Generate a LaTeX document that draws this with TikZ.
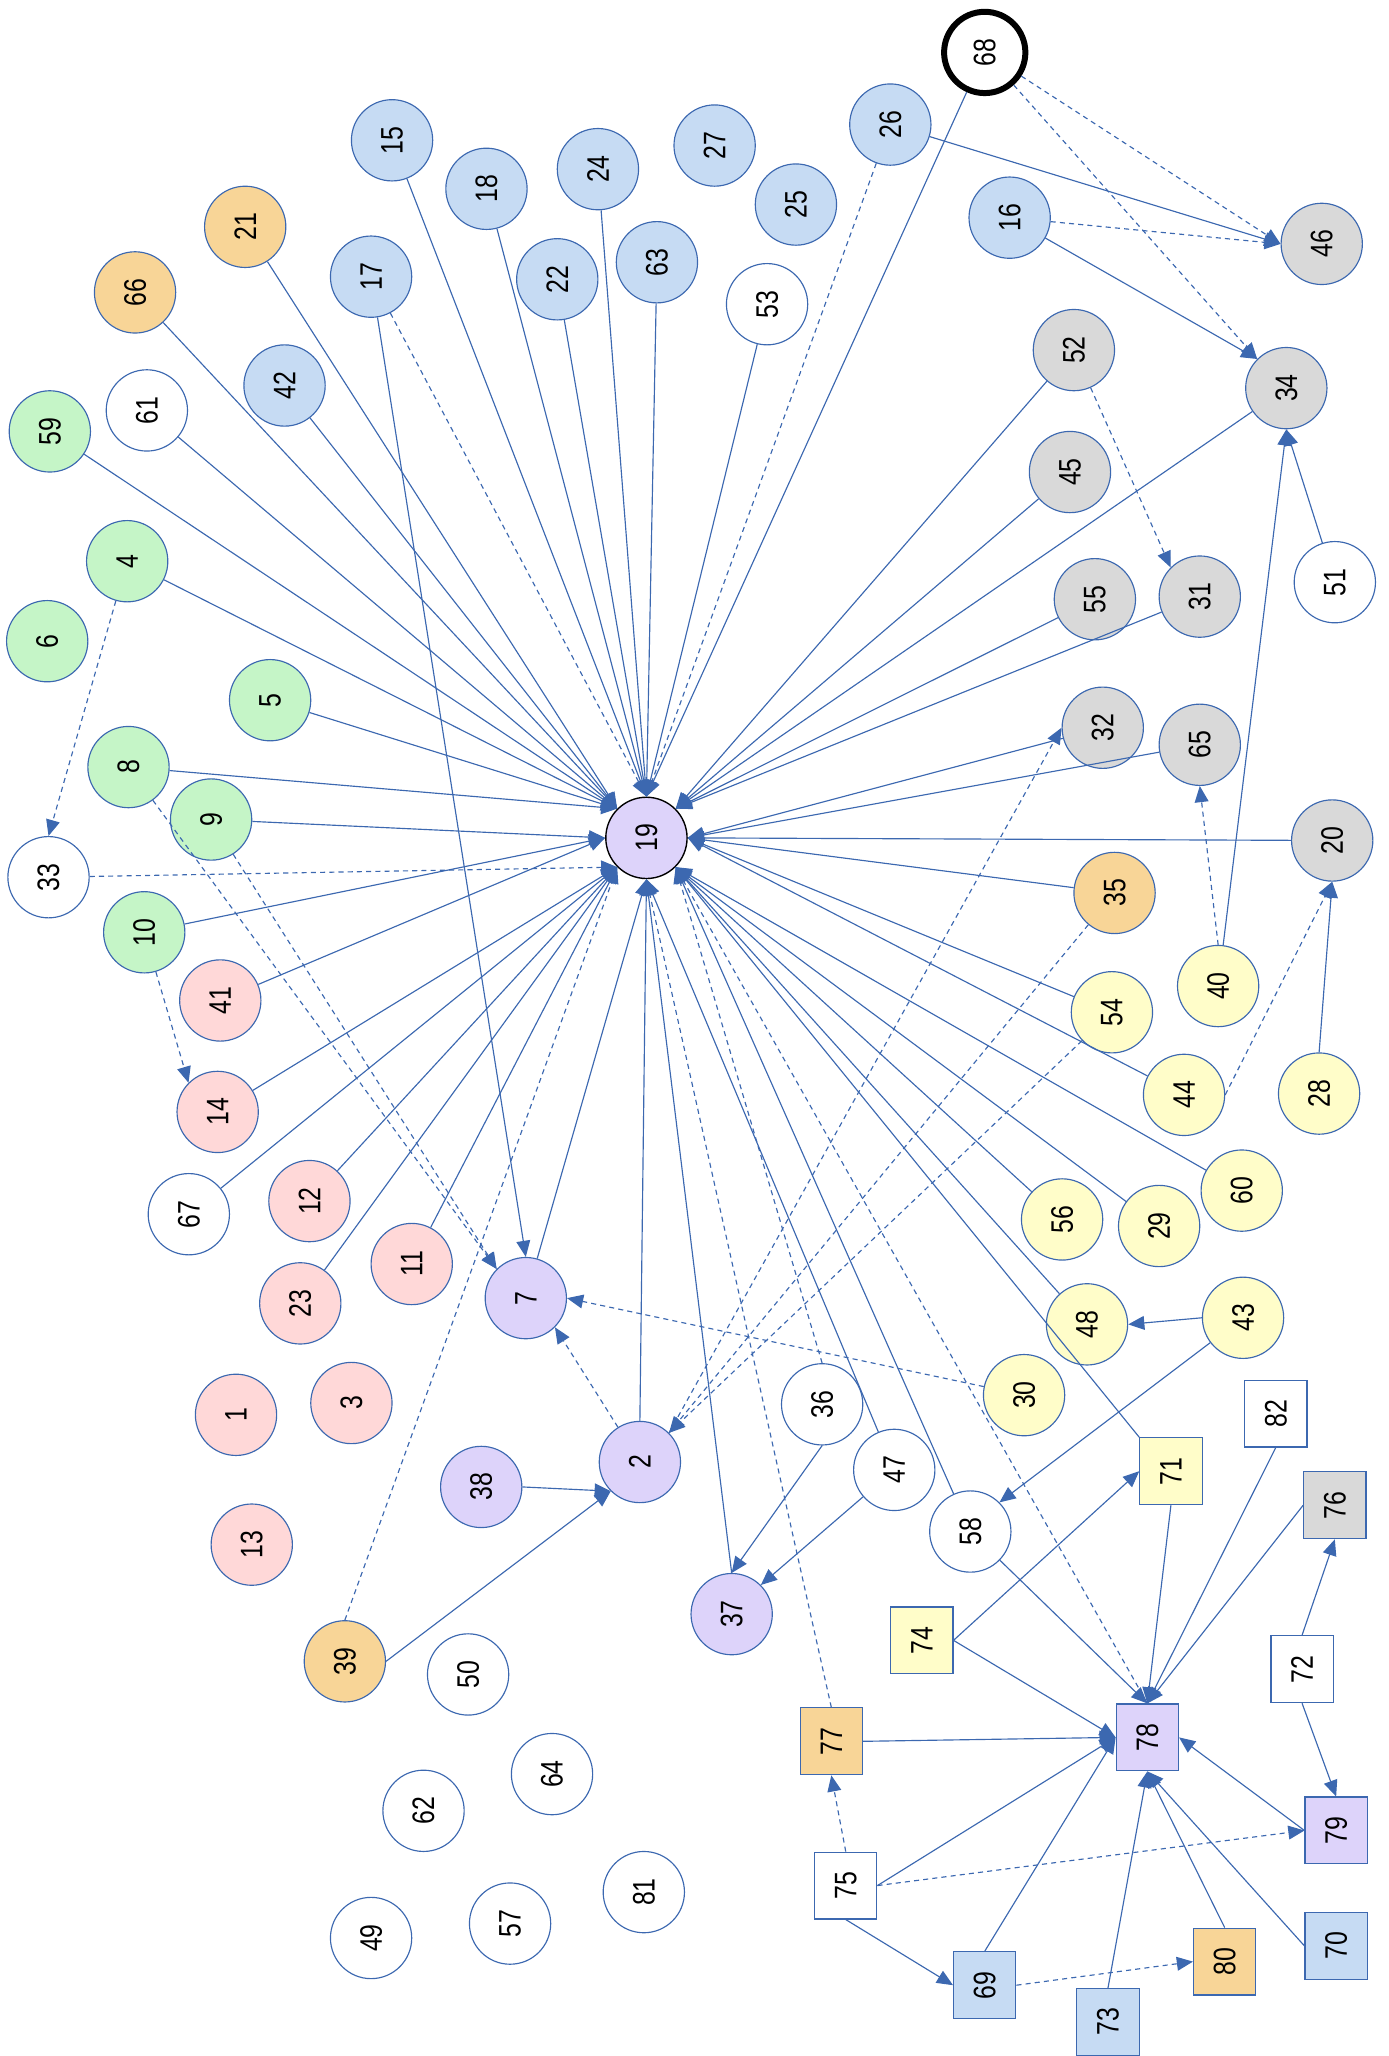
\documentclass[tikz,border=0pt]{standalone}
\usepackage{fontspec}
\usepackage{xcolor}
\newfontfamily\numfont{Liberation Sans}[FakeStretch=0.8]
\usetikzlibrary{arrows.meta,shapes,calc,positioning}

\definecolor{linkblue}{HTML}{3C68B0}
\definecolor{nblue}{HTML}{C6DBF3}
\definecolor{ngray}{HTML}{D9D9D9}
\definecolor{ngreen}{HTML}{C5F5C7}
\definecolor{npink}{HTML}{FFD8D8}
\definecolor{norange}{HTML}{F8D597}
\definecolor{nyellow}{HTML}{FFFDC9}
\definecolor{npurple}{HTML}{DDD3FA}

\newcommand{\vt}[1]{\rotatebox{90}{#1}}

\tikzset{
	nd/.style={circle, draw=linkblue, line width=0.5pt, fill=white, minimum size=1.24cm, inner sep=0pt},
	sq/.style={rectangle, draw=linkblue, line width=0.5pt, fill=white, minimum width=0.95cm, minimum height=1.02cm, inner sep=0pt},
	link/.style={draw=linkblue, line width=0.5pt, -{Triangle[length=7pt,width=6pt]}},
	dlink/.style={link, dash pattern=on 2.2pt off 1.8pt},
}

\begin{document}
\begin{tikzpicture}[x=0.02cm, y=-0.02cm]
		\tikzstyle{every node}=[font=\numfont\fontsize{13.5}{14}\selectfont]
		\useasboundingbox (0,0) rectangle (1059,1568);
		% hub
		\node[nd, fill=npurple, draw=black, line width=0.6pt] (n19) at (493,639) {\vt{19}};
		% blue
		\node[nd, fill=nblue] (n15) at (299,107) {\vt{15}};
		\node[nd, fill=nblue] (n18) at (371,144) {\vt{18}};
		\node[nd, fill=nblue] (n24) at (456,129) {\vt{24}};
		\node[nd, fill=nblue] (n27) at (545,111) {\vt{27}};
		\node[nd, fill=nblue] (n25) at (607,156) {\vt{25}};
		\node[nd, fill=nblue] (n26) at (679,95) {\vt{26}};
		\node[nd, fill=nblue] (n16) at (770,166) {\vt{16}};
		\node[nd, fill=nblue] (n17) at (283,211) {\vt{17}};
		\node[nd, fill=nblue] (n22) at (425,213) {\vt{22}};
		\node[nd, fill=nblue] (n63) at (501,200) {\vt{63}};
		\node[nd, fill=nblue] (n42) at (217,294) {\vt{42}};
		% orange
		\node[nd, fill=norange] (n21) at (187,173) {\vt{21}};
		\node[nd, fill=norange] (n66) at (103,223) {\vt{66}};
		\node[nd, fill=norange] (n35) at (850,681) {\vt{35}};
		\node[nd, fill=norange] (n39) at (263,1267) {\vt{39}};
		% white
		\node[nd, draw=black, line width=2.6pt] (n68) at (751,40) {\vt{68}};
		\node[nd] (n53) at (585,232) {\vt{53}};
		\node[nd] (n61) at (112,313) {\vt{61}};
		\node[nd] (n51) at (1018,444) {\vt{51}};
		\node[nd] (n33) at (37,669) {\vt{33}};
		\node[nd] (n67) at (144,926) {\vt{67}};
		\node[nd] (n36) at (627,1071) {\vt{36}};
		\node[nd] (n47) at (682,1121) {\vt{47}};
		\node[nd] (n58) at (740,1168) {\vt{58}};
		\node[nd] (n50) at (357,1277) {\vt{50}};
		\node[nd] (n64) at (421,1353) {\vt{64}};
		\node[nd] (n62) at (323,1381) {\vt{62}};
		\node[nd] (n81) at (491,1443) {\vt{81}};
		\node[nd] (n49) at (283,1478) {\vt{49}};
		\node[nd] (n57) at (389,1467) {\vt{57}};
		% gray
		\node[nd, fill=ngray] (n46) at (1008,186) {\vt{46}};
		\node[nd, fill=ngray] (n52) at (819,267) {\vt{52}};
		\node[nd, fill=ngray] (n34) at (981,296) {\vt{34}};
		\node[nd, fill=ngray] (n45) at (816,360) {\vt{45}};
		\node[nd, fill=ngray] (n55) at (835,457) {\vt{55}};
		\node[nd, fill=ngray] (n31) at (915,455) {\vt{31}};
		\node[nd, fill=ngray] (n32) at (841,555) {\vt{32}};
		\node[nd, fill=ngray] (n65) at (915,568) {\vt{65}};
		\node[nd, fill=ngray] (n20) at (1016,641) {\vt{20}};
		% green
		\node[nd, fill=ngreen] (n59) at (38,329) {\vt{59}};
		\node[nd, fill=ngreen] (n4) at (97,428) {\vt{4}};
		\node[nd, fill=ngreen] (n6) at (36,489) {\vt{6}};
		\node[nd, fill=ngreen] (n5) at (206,534) {\vt{5}};
		\node[nd, fill=ngreen] (n8) at (98,585) {\vt{8}};
		\node[nd, fill=ngreen] (n9) at (161,625) {\vt{9}};
		\node[nd, fill=ngreen] (n10) at (110,711) {\vt{10}};
		% pink
		\node[nd, fill=npink] (n41) at (168,763) {\vt{41}};
		\node[nd, fill=npink] (n14) at (166,848) {\vt{14}};
		\node[nd, fill=npink] (n12) at (236,916) {\vt{12}};
		\node[nd, fill=npink] (n11) at (314,964) {\vt{11}};
		\node[nd, fill=npink] (n23) at (229,994) {\vt{23}};
		\node[nd, fill=npink] (n3) at (268,1070) {\vt{3}};
		\node[nd, fill=npink] (n1) at (180,1079) {\vt{1}};
		\node[nd, fill=npink] (n13) at (192,1178) {\vt{13}};
		% yellow
		\node[nd, fill=nyellow] (n40) at (929,752) {\vt{40}};
		\node[nd, fill=nyellow] (n54) at (848,772) {\vt{54}};
		\node[nd, fill=nyellow] (n44) at (903,835) {\vt{44}};
		\node[nd, fill=nyellow] (n28) at (1006,834) {\vt{28}};
		\node[nd, fill=nyellow] (n60) at (947,908) {\vt{60}};
		\node[nd, fill=nyellow] (n56) at (810,930) {\vt{56}};
		\node[nd, fill=nyellow] (n29) at (884,935) {\vt{29}};
		\node[nd, fill=nyellow] (n48) at (829,1010) {\vt{48}};
		\node[nd, fill=nyellow] (n43) at (948,1005) {\vt{43}};
		\node[nd, fill=nyellow] (n30) at (781,1064) {\vt{30}};
		% purple
		\node[nd, fill=npurple] (n7) at (401,990) {\vt{7}};
		\node[nd, fill=npurple] (n2) at (488,1115) {\vt{2}};
		\node[nd, fill=npurple] (n38) at (367,1134) {\vt{38}};
		\node[nd, fill=npurple] (n37) at (558,1231) {\vt{37}};
		% boxes
		\node[sq] (n82) at (973,1078) {\vt{82}};
		\node[sq, fill=nyellow] (n71) at (893,1122) {\vt{71}};
		\node[sq, fill=ngray] (n76) at (1018,1148) {\vt{76}};
		\node[sq, fill=nyellow] (n74) at (703,1251) {\vt{74}};
		\node[sq] (n72) at (993,1273) {\vt{72}};
		\node[sq, fill=norange] (n77) at (634,1328) {\vt{77}};
		\node[sq, fill=npurple] (n78) at (875,1325) {\vt{78}};
		\node[sq, fill=npurple] (n79) at (1019,1396) {\vt{79}};
		\node[sq] (n75) at (645,1438) {\vt{75}};
		\node[sq, fill=nblue] (n69) at (751,1514) {\vt{69}};
		\node[sq, fill=norange] (n80) at (934,1496) {\vt{80}};
		\node[sq, fill=nblue] (n70) at (1019,1484) {\vt{70}};
		\node[sq, fill=nblue] (n73) at (845,1542) {\vt{73}};

		% into 19
		\draw[link] (n15) -- (n19.north);
		\draw[link] (n18) -- (n19.north);
		\draw[link] (n24) -- (n19.north);
		\draw[link] (n22) -- (n19.north);
		\draw[link] (n63) -- (n19.north);
		\draw[link] (n53) -- (n19.north);
		\draw[link] (n68) -- (n19.north);
		\draw[dlink] (n26) -- (n19.north);
		\draw[dlink] (n17) -- (n19.north);
		\draw[link] (n21) -- (n19.north west);
		\draw[link] (n66) -- (n19.north west);
		\draw[link] (n42) -- (n19.north west);
		\draw[link] (n61) -- (n19.north west);
		\draw[link] (n59) -- (n19.north west);
		\draw[link] (n4) -- (n19.north west);
		\draw[link] (n5) -- (n19.north west);
		\draw[link] (n8) -- (n19.north west);
		\draw[link] (n9) -- (n19.west);
		\draw[link] (n10) -- (n19.west);
		\draw[link] (n41) -- (n19.west);
		\draw[dlink] (n33) -- (n19.south west);
		\draw[link] (n14) -- (n19.south west);
		\draw[link] (n67) -- (n19.south west);
		\draw[link] (n12) -- (n19.south west);
		\draw[link] (n23) -- (n19.south west);
		\draw[link] (n11) -- (n19.south west);
		\draw[dlink] (n39.north) -- (n19.south west);
		\draw[link] (n7) -- (n19.south);
		\draw[link] (n2.north) -- (n19.south);
		\draw[link] (n37.north) -- (n19.south);
		\draw[link] (n47) -- (n19.south);
		\draw[dlink] (n77.north) -- (n19.south);
		\draw[dlink] (n36.north) -- (n19.south east);
		\draw[dlink] (n78.north) -- (n19.south east);
		\draw[link] (n58) -- (n19.south east);
		\draw[link] (n71.north west) -- (n19.south east);
		\draw[link] (n48) -- (n19.south east);
		\draw[link] (n56) -- (n19.south east);
		\draw[link] (n29) -- (n19.south east);
		\draw[link] (n60) -- (n19.south east);
		\draw[link] (n20) -- (n19.east);
		\draw[link] (n65) -- (n19.east);
		\draw[link] (n32) -- (n19.east);
		\draw[link] (n35) -- (n19.east);
		\draw[link] (n54) -- (n19.east);
		\draw[link] (n44) -- (n19.east);
		\draw[link] (n52) -- (n19.north east);
		\draw[link] (n45) -- (n19.north east);
		\draw[link] (n34) -- (n19.north east);
		\draw[link] (n55) -- (n19.north east);
		\draw[link] (n31) -- (n19.north east);

		% upper right
		\draw[dlink] (n68) -- (n46.west);
		\draw[dlink] (n16) -- (n46.west);
		\draw[link] (n26) -- (n46.west);
		\draw[dlink] (n68) -- (n34.north west);
		\draw[link] (n16) -- (n34.north west);
		\draw[dlink] (n52) -- (n31.north west);
		\draw[link] (n51) -- (n34.south);
		\draw[link] (n40) -- (n34.south);
		\draw[dlink] (n40.north) -- (n65.south);
		\draw[dlink] (n44.east) -- (n20.south);
		\draw[link] (n28.north) -- (n20.south);

		% left
		\draw[dlink] (n4) -- (n33.north);
		\draw[dlink] (n10) -- (n14.north west);
		\draw[dlink] (n8) -- (n7.north west);
		\draw[dlink] (n9) -- (n7.north west);
		\draw[link] (n17) -- (n7.north);

		% middle
		\draw[dlink] (n30) -- (n7.east);
		\draw[dlink] (n2) -- (n7.south east);
		\draw[dlink] (n35) -- (n2.north east);
		\draw[dlink] (n54) -- (n2.north east);
		\draw[dlink] (n2.north east) -- (n32.west);
		\draw[link] (n38.east) -- (n2.south west);
		\draw[link] (n39.east) -- (n2.south west);
		\draw[link] (n36.south) -- (n37.north);
		\draw[link] (n47) -- (n37.north east);
		\draw[link] (n43.west) -- (n48.east);
		\draw[link] (n43) -- (n58.north east);

		% boxes
		\draw[link] (n74.east) -- (n71.west);
		\draw[link] (n74.east) -- (n78.west);
		\draw[link] (n77.east) -- (n78.west);
		\draw[link] (n75.east) -- (n78.west);
		\draw[link] (n69.north) -- (n78.west);
		\draw[link] (n58) -- (n78.north);
		\draw[link] (n71.south) -- (n78.north);
		\draw[link] (n82.south) -- (n78.north);
		\draw[link] (n76.west) -- (n78.north);
		\draw[link] (n79.west) -- (n78.east);
		\draw[link] (n73.north) -- (n78.south);
		\draw[link] (n80.north) -- (n78.south);
		\draw[link] (n70.west) -- (n78.south);
		\draw[link] (n72.north) -- (n76.south);
		\draw[link] (n72.south) -- (n79.north);
		\draw[dlink] (n75.north) -- (n77.south);
		\draw[dlink] (n75.east) -- (n79.west);
		\draw[link] (n75.south) -- (n69.west);
		\draw[dlink] (n69.east) -- (n80.west);
	\end{tikzpicture}
\end{document}
